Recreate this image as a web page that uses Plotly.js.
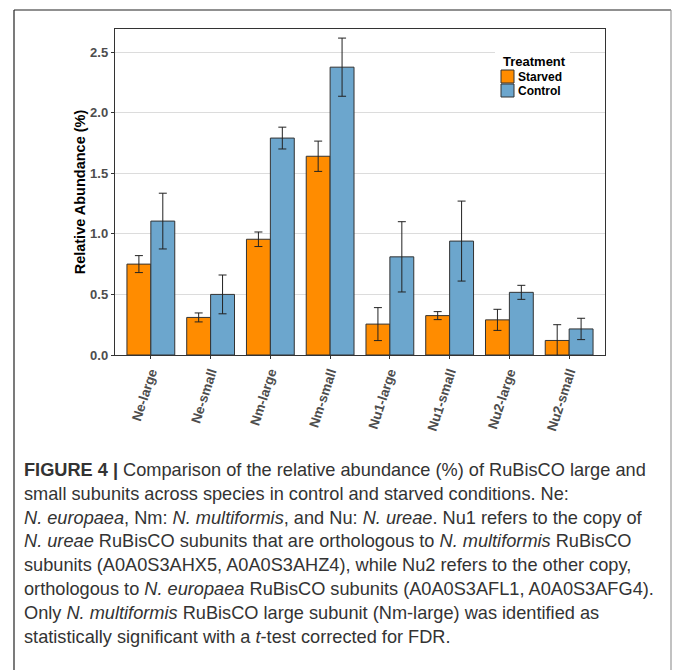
<!DOCTYPE html>
<html>
<head>
<meta charset="utf-8">
<script src="https://cdn.plot.ly/plotly-3.0.1.min.js"></script>
<style>
html,body{margin:0;padding:0;background:#fff;}
#chart{width:673px;height:670px;}
</style>
</head>
<body>
<div id="chart"></div>
<script>
// ---- data ----
const categories = ["Ne-large","Ne-small","Nm-large","Nm-small","Nu1-large","Nu1-small","Nu2-large","Nu2-small"];
const seriesNames = ["Starved","Control"];
const starved    = [0.75, 0.31, 0.955, 1.64, 0.255, 0.325, 0.29, 0.12];
const starvedErr = [0.07, 0.037, 0.06, 0.125, 0.136, 0.033, 0.087, 0.13];
const control    = [1.105, 0.50, 1.79, 2.375, 0.81, 0.94, 0.517, 0.215];
const controlErr = [0.23, 0.16, 0.09, 0.24, 0.29, 0.33, 0.058, 0.088];
const legendTitle = "Treatment";
const yTitle = "Relative Abundance (%)";
const captionLines = [
  "<b>FIGURE 4 |</b> Comparison of the relative abundance (%) of RuBisCO large and",
  "small subunits across species in control and starved conditions. Ne:",
  "<i>N. europaea</i>, Nm: <i>N. multiformis</i>, and Nu: <i>N. ureae</i>. Nu1 refers to the copy of",
  "<i>N. ureae</i> RuBisCO subunits that are orthologous to <i>N. multiformis</i> RuBisCO",
  "subunits (A0A0S3AHX5, A0A0S3AHZ4), while Nu2 refers to the other copy,",
  "orthologous to <i>N. europaea</i> RuBisCO subunits (A0A0S3AFL1, A0A0S3AFG4).",
  "Only <i>N. multiformis</i> RuBisCO large subunit (Nm-large) was identified as",
  "statistically significant with a <i>t</i>-test corrected for FDR."
];

// ---- styling ----
const colors = ["#FF8C00", "#6CA6CD"];
const W = 673, H = 670;
const L = 115, R = 605, T = 29, B = 355;
const px = x => (x - L) / (R - L);
const py = y => (B - y) / (B - T);
const FONT = "Liberation Sans, Arial, sans-serif";

const errStyle = {type: "data", visible: true, color: "#222", thickness: 1, width: 4};
const traces = [
  {type: "bar", name: seriesNames[0], x: categories, y: starved,
   error_y: Object.assign({array: starvedErr}, errStyle),
   marker: {color: colors[0], line: {color: "#333", width: 1}}},
  {type: "bar", name: seriesNames[1], x: categories, y: control,
   error_y: Object.assign({array: controlErr}, errStyle),
   marker: {color: colors[1], line: {color: "#333", width: 1}}}
];

const shapes = [
  // outer frame
  {type: "line", xref: "paper", yref: "paper", x0: px(14), x1: px(671), y0: py(10), y1: py(10), line: {color: "#222", width: 1.2}},
  {type: "line", xref: "paper", yref: "paper", x0: px(14), x1: px(14), y0: py(10), y1: py(672), line: {color: "#222", width: 1.2}},
  {type: "line", xref: "paper", yref: "paper", x0: px(671), x1: px(671), y0: py(10), y1: py(672), line: {color: "#999", width: 1.2}},
  // legend background
  {type: "rect", xref: "paper", yref: "paper", x0: px(495), x1: px(570), y0: py(46), y1: py(102), fillcolor: "#fff", line: {width: 0}, layer: "above"}
];
const annotations = [
  {xref: "paper", yref: "paper", x: px(501), y: py(61), xanchor: "left", yanchor: "middle", showarrow: false,
   text: legendTitle, font: {family: FONT, size: 13, color: "#000", weight: "bold"}}
];
seriesNames.forEach((n, i) => {
  const y0 = 70 + i * 14;
  shapes.push({type: "rect", xref: "paper", yref: "paper", x0: px(501), x1: px(514), y0: py(y0), y1: py(y0 + 13),
    fillcolor: colors[i], line: {color: "#333", width: 1}, layer: "above"});
  annotations.push({xref: "paper", yref: "paper", x: px(515.5), y: py(y0 + 6.8), xanchor: "left", yanchor: "middle", showarrow: false,
    text: n, font: {family: FONT, size: 12, color: "#000", weight: "bold"}});
});
captionLines.forEach((t, i) => {
  annotations.push({xref: "paper", yref: "paper", x: px(22), y: py(470 + i * 23.8), xanchor: "left", yanchor: "middle",
    showarrow: false, align: "left", text: t, font: {family: FONT, size: 18.2, color: "#333"}});
});

const layout = {
  width: W, height: H,
  margin: {l: L, r: W - R, t: T, b: H - B, pad: 0},
  paper_bgcolor: "#fff", plot_bgcolor: "#fff",
  showlegend: false,
  barmode: "group", bargap: 0.2, bargroupgap: 0,
  font: {family: FONT},
  xaxis: {
    type: "category", range: [-0.6, 7.6], fixedrange: true,
    showline: true, mirror: true, linecolor: "#333", linewidth: 1.2,
    ticks: "outside", ticklen: 3, tickcolor: "#333", tickwidth: 1,
    tickangle: -72, showgrid: false, automargin: false,
    tickfont: {family: FONT, size: 13.5, color: "#4D4D4D", weight: "bold"}
  },
  yaxis: {
    range: [0, 2.69], dtick: 0.5, tick0: 0, tickformat: ".1f", fixedrange: true,
    showline: true, mirror: true, linecolor: "#333", linewidth: 1.2,
    ticks: "outside", ticklen: 3, tickcolor: "#333", tickwidth: 1,
    showgrid: true, gridcolor: "#DCDCDC", gridwidth: 1, zeroline: false, automargin: false,
    tickfont: {family: FONT, size: 13, color: "#4D4D4D", weight: "bold"},
    title: {text: yTitle, standoff: 1, font: {family: FONT, size: 14.5, color: "#000", weight: "bold"}}
  },
  shapes: shapes,
  annotations: annotations
};

Plotly.newPlot("chart", traces, layout, {displayModeBar: false, staticPlot: true});
</script>
</body>
</html>
